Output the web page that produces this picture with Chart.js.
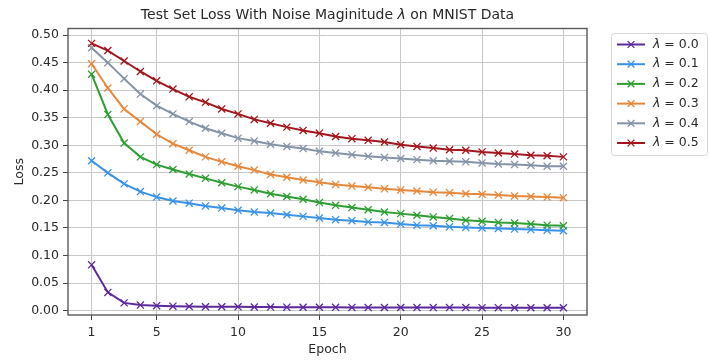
<!DOCTYPE html>
<html>
<head>
<meta charset="utf-8">
<script src="https://cdn.jsdelivr.net/npm/chart.js@4"></script>
<style>
  body { margin: 0; background: #fff; }
</style>
</head>
<body>
<canvas id="lossChart" width="709" height="360"></canvas>
<script>
// values
const epochs = [1, 2, 3, 4, 5, 6, 7, 8, 9, 10, 11, 12, 13, 14, 15, 16, 17, 18, 19, 20, 21, 22, 23, 24, 25, 26, 27, 28, 29, 30];
const noiseLevels = ['0.0', '0.1', '0.2', '0.3', '0.4', '0.5'];

const loss00 = [0.083, 0.033, 0.014, 0.010, 0.009, 0.008, 0.0075, 0.007, 0.007, 0.0068, 0.0066, 0.0064, 0.0062, 0.0061, 0.006, 0.0059, 0.0058, 0.0057, 0.0056, 0.0056, 0.0055, 0.0055, 0.0054, 0.0054, 0.0053, 0.0053, 0.0052, 0.0052, 0.0051, 0.0051];
const loss01 = [0.272, 0.250, 0.230, 0.216, 0.206, 0.199, 0.195, 0.190, 0.186, 0.182, 0.179, 0.177, 0.174, 0.171, 0.168, 0.165, 0.163, 0.161, 0.160, 0.157, 0.155, 0.154, 0.152, 0.151, 0.150, 0.149, 0.148, 0.147, 0.146, 0.145];
const loss02 = [0.429, 0.356, 0.304, 0.279, 0.265, 0.256, 0.248, 0.240, 0.232, 0.225, 0.219, 0.212, 0.207, 0.202, 0.196, 0.191, 0.187, 0.183, 0.179, 0.176, 0.173, 0.170, 0.167, 0.164, 0.162, 0.160, 0.159, 0.157, 0.155, 0.154];
const loss03 = [0.448, 0.404, 0.366, 0.343, 0.320, 0.303, 0.291, 0.279, 0.270, 0.262, 0.255, 0.247, 0.242, 0.237, 0.233, 0.229, 0.226, 0.224, 0.221, 0.219, 0.217, 0.215, 0.214, 0.212, 0.211, 0.210, 0.208, 0.207, 0.206, 0.205];
const loss04 = [0.477, 0.450, 0.421, 0.393, 0.372, 0.357, 0.343, 0.331, 0.322, 0.313, 0.308, 0.302, 0.298, 0.294, 0.289, 0.286, 0.283, 0.280, 0.278, 0.276, 0.274, 0.272, 0.271, 0.270, 0.268, 0.266, 0.265, 0.264, 0.262, 0.262];
const loss05 = [0.485, 0.472, 0.453, 0.434, 0.417, 0.402, 0.388, 0.378, 0.366, 0.357, 0.347, 0.340, 0.333, 0.327, 0.322, 0.316, 0.312, 0.309, 0.306, 0.301, 0.298, 0.295, 0.292, 0.291, 0.288, 0.286, 0.284, 0.282, 0.281, 0.279];

const xTicks = [1, 5, 10, 15, 20, 25, 30];
const yTicks = [0, 0.05, 0.10, 0.15, 0.20, 0.25, 0.30, 0.35, 0.40, 0.45, 0.50];

const allLoss = [loss00, loss01, loss02, loss03, loss04, loss05];
const lineColors = ['#5c2a9d', '#3a92e8', '#2f9e33', '#e7873c', '#8593a7', '#a3161c'];

const FONT = 'DejaVu Sans';

// draws "λ" in italics followed by the rest of the string
function drawLambdaText(ctx, before, after, x, y, size, align) {
	const normal = size + 'px "' + FONT + '"';
	const italic = 'italic ' + size + 'px "' + FONT + '"';
	ctx.font = normal;
	const w1 = ctx.measureText(before).width;
	const w3 = ctx.measureText(after).width;
	ctx.font = italic;
	const w2 = ctx.measureText('λ').width;
	let start = x;
	if (align === 'center') start = x - (w1 + w2 + w3) / 2;
	ctx.textAlign = 'left';
	ctx.textBaseline = 'middle';
	ctx.font = normal;
	ctx.fillText(before, start, y);
	ctx.font = italic;
	ctx.fillText('λ', start + w1, y);
	ctx.font = normal;
	ctx.fillText(after, start + w1 + w2, y);
}

const decorations = {
	id: 'decorations',
	afterDatasetsDraw(chart) {
		const ctx = chart.ctx;
		const a = chart.chartArea;
		ctx.save();
		ctx.strokeStyle = '#5a5a5a';
		ctx.lineWidth = 1.4;
		ctx.strokeRect(a.left, a.top, a.right - a.left, a.bottom - a.top);
		ctx.restore();
	},
	afterDraw(chart) {
		const ctx = chart.ctx;
		const a = chart.chartArea;
		ctx.save();
		ctx.fillStyle = '#2a2a2a';
		drawLambdaText(ctx, 'Test Set Loss With Noise Maginitude ', ' on MNIST Data', (a.left + a.right) / 2, 15, 14, 'center');

		// legend box
		const bx = 611, by = 33, bw = 96, bh = 122;
		ctx.fillStyle = 'rgba(255,255,255,0.9)';
		ctx.strokeStyle = '#d6d6d6';
		ctx.lineWidth = 1;
		ctx.beginPath();
		ctx.roundRect(bx + 0.5, by + 0.5, bw, bh, 3);
		ctx.fill();
		ctx.stroke();

		noiseLevels.forEach(function (lvl, i) {
			const y = 44.5 + i * 19.7;
			ctx.strokeStyle = lineColors[i];
			ctx.lineWidth = 2;
			ctx.beginPath();
			ctx.moveTo(617, y);
			ctx.lineTo(645, y);
			ctx.stroke();
			const r = 4.5;
			ctx.lineWidth = 1.3;
			ctx.beginPath();
			ctx.moveTo(631 - r * 0.75, y - r * 0.75);
			ctx.lineTo(631 + r * 0.75, y + r * 0.75);
			ctx.moveTo(631 - r * 0.75, y + r * 0.75);
			ctx.lineTo(631 + r * 0.75, y - r * 0.75);
			ctx.stroke();
			ctx.fillStyle = '#2a2a2a';
			drawLambdaText(ctx, '', ' = ' + lvl, 653, y, 12.5, 'left');
		});
		ctx.restore();
	}
};

const datasets = allLoss.map(function (series, i) {
	return {
		label: 'λ = ' + noiseLevels[i],
		data: series.map(function (v, j) { return { x: epochs[j], y: v }; }),
		borderColor: lineColors[i],
		backgroundColor: lineColors[i],
		borderWidth: 2,
		pointStyle: 'crossRot',
		pointRadius: 5,
		pointBorderWidth: 1.3,
		tension: 0,
		fill: false,
		order: allLoss.length - i,
	};
});

new Chart(document.getElementById('lossChart').getContext('2d'), {
	type: 'line',
	data: { datasets: datasets },
	options: {
		responsive: false,
		animation: false,
		layout: { padding: { left: 0, top: 28.5, right: 122, bottom: 0 } },
		plugins: {
			legend: { display: false },
			title: { display: false },
			tooltip: { enabled: false },
		},
		scales: {
			x: {
				type: 'linear',
				min: -0.45,
				max: 31.45,
				afterBuildTicks: function (scale) {
					scale.ticks = xTicks.map(function (v) { return { value: v }; });
				},
				afterFit: function (scale) { scale.height = 45; },
				border: { display: false },
				grid: { color: '#c8c8c8', lineWidth: 1, tickLength: 5, tickColor: '#444' },
				ticks: {
					color: '#2a2a2a',
					padding: 5,
					maxRotation: 0,
					font: { family: FONT, size: 12.5 },
					callback: function (v) { return String(v); },
				},
				title: {
					display: true,
					text: 'Epoch',
					color: '#2a2a2a',
					font: { family: FONT, size: 12.5 },
					padding: { top: 0, bottom: 3 },
				},
			},
			y: {
				type: 'linear',
				min: -0.008,
				max: 0.512,
				afterBuildTicks: function (scale) {
					scale.ticks = yTicks.map(function (v) { return { value: v }; });
				},
				afterFit: function (scale) { scale.width = 68; },
				border: { display: false },
				grid: { color: '#c8c8c8', lineWidth: 1, tickLength: 5, tickColor: '#444' },
				ticks: {
					color: '#2a2a2a',
					padding: 4,
					font: { family: FONT, size: 12.5 },
					callback: function (v) { return v.toFixed(2); },
				},
				title: {
					display: true,
					text: 'Loss',
					color: '#2a2a2a',
					font: { family: FONT, size: 12.5 },
					padding: { top: 12, bottom: 0 },
				},
			},
		},
	},
	plugins: [decorations],
});
</script>
</body>
</html>
